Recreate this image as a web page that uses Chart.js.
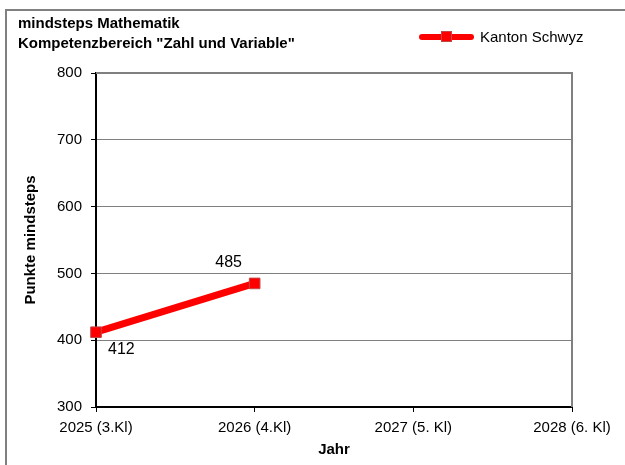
<!DOCTYPE html>
<html lang="de">
<head>
    <meta charset="UTF-8">
    <title>mindsteps Mathematik</title>
    <script src="https://cdn.jsdelivr.net/npm/chart.js"></script>
    <style>
        html, body { margin: 0; padding: 0; background: #fff; }
        #wrap { width: 625px; height: 465px; }
    </style>
</head>
<body>
    <div id="wrap"><canvas id="chart" width="625" height="465"></canvas></div>
    <script>
        // Daten
        const jahre = ["2025 (3.Kl)", "2026 (4.Kl)", "2027 (5. Kl)", "2028 (6. Kl)"];
        const kantonSchwyz = [412, 485, null, null];
        const titelZeilen = ["mindsteps Mathematik", "Kompetenzbereich \"Zahl und Variable\""];
        const serienName = "Kanton Schwyz";

        const schrift = "'Liberation Sans', Arial, sans-serif";

        // Rahmen, Titel, Legende und Werte zeichnen
        const extras = {
            id: "extras",
            beforeDraw(chart) {
                const ctx = chart.ctx;
                ctx.save();
                ctx.strokeStyle = "#808080";
                ctx.lineWidth = 2;
                ctx.beginPath();
                ctx.moveTo(6, 465);
                ctx.lineTo(6, 10);
                ctx.lineTo(625, 10);
                ctx.stroke();
                ctx.restore();
            },
            afterDraw(chart) {
                const ctx = chart.ctx;
                const area = chart.chartArea;
                ctx.save();

                // Rahmen oben und rechts
                ctx.strokeStyle = "#808080";
                ctx.lineWidth = 2;
                ctx.beginPath();
                ctx.moveTo(area.left, area.top);
                ctx.lineTo(area.right, area.top);
                ctx.lineTo(area.right, area.bottom);
                ctx.stroke();

                // Titel
                ctx.fillStyle = "#000";
                ctx.font = "bold 15px " + schrift;
                ctx.textAlign = "left";
                ctx.textBaseline = "middle";
                ctx.fillText(titelZeilen[0], 18, 24);
                ctx.fillText(titelZeilen[1], 18, 44);

                // Legende
                ctx.strokeStyle = "#ff0000";
                ctx.lineWidth = 6;
                ctx.lineCap = "round";
                ctx.beginPath();
                ctx.moveTo(422, 37);
                ctx.lineTo(471, 37);
                ctx.stroke();
                ctx.fillStyle = "#ff0000";
                ctx.fillRect(442, 32, 9, 9);
                ctx.strokeStyle = "#c04848";
                ctx.lineWidth = 1;
                ctx.strokeRect(441.5, 31.5, 10, 10);
                ctx.fillStyle = "#000";
                ctx.font = "15px " + schrift;
                ctx.fillText(chart.data.datasets[0].label, 480, 38);

                // Werte an den Punkten
                const meta = chart.getDatasetMeta(0);
                const daten = chart.data.datasets[0].data;
                ctx.font = "16px " + schrift;
                meta.data.forEach((p, i) => {
                    if (daten[i] == null) return;
                    if (i === 0) {
                        ctx.textAlign = "left";
                        ctx.fillText(String(daten[i]), p.x + 12, p.y + 17);
                    } else {
                        ctx.textAlign = "center";
                        ctx.fillText(String(daten[i]), p.x - 26, p.y - 21);
                    }
                });
                ctx.restore();
            }
        };

        new Chart(document.getElementById("chart").getContext("2d"), {
            type: "line",
            data: {
                labels: jahre,
                datasets: [{
                    label: serienName,
                    data: kantonSchwyz,
                    borderColor: "#ff0000",
                    borderWidth: 7,
                    backgroundColor: "#ff0000",
                    pointStyle: "rect",
                    pointRadius: 7.5,
                    pointBorderColor: "#c04848",
                    pointBorderWidth: 1,
                    pointBackgroundColor: "#ff0000",
                    tension: 0,
                    spanGaps: false
                }]
            },
            options: {
                responsive: false,
                animation: false,
                layout: { padding: { left: 0, top: 73, right: 53, bottom: 0 } },
                plugins: {
                    legend: { display: false },
                    title: { display: false },
                    tooltip: { enabled: false }
                },
                scales: {
                    x: {
                        offset: false,
                        afterFit(scale) { scale.height = 58; },
                        border: { color: "#000", width: 2 },
                        grid: { drawOnChartArea: false, drawTicks: true, tickLength: 5, tickColor: "#000", tickWidth: 1 },
                        ticks: { color: "#000", font: { family: schrift, size: 15 }, padding: 7, maxRotation: 0, autoSkip: false },
                        title: {
                            display: true,
                            text: "Jahr",
                            color: "#000",
                            font: { family: schrift, size: 15, weight: "bold" },
                            padding: { top: 0, bottom: 6.5 }
                        }
                    },
                    y: {
                        min: 300,
                        max: 800,
                        afterFit(scale) { scale.width = 96; },
                        border: { color: "#000", width: 2 },
                        grid: { color: "#808080", lineWidth: 1, drawTicks: true, tickLength: 5, tickColor: "#000" },
                        ticks: { stepSize: 100, color: "#000", font: { family: schrift, size: 15 }, padding: 9 },
                        title: {
                            display: true,
                            text: "Punkte mindsteps",
                            color: "#000",
                            font: { family: schrift, size: 15, weight: "bold" },
                            padding: { top: 21.5, bottom: 0 }
                        }
                    }
                }
            },
            plugins: [extras]
        });
    </script>
</body>
</html>
